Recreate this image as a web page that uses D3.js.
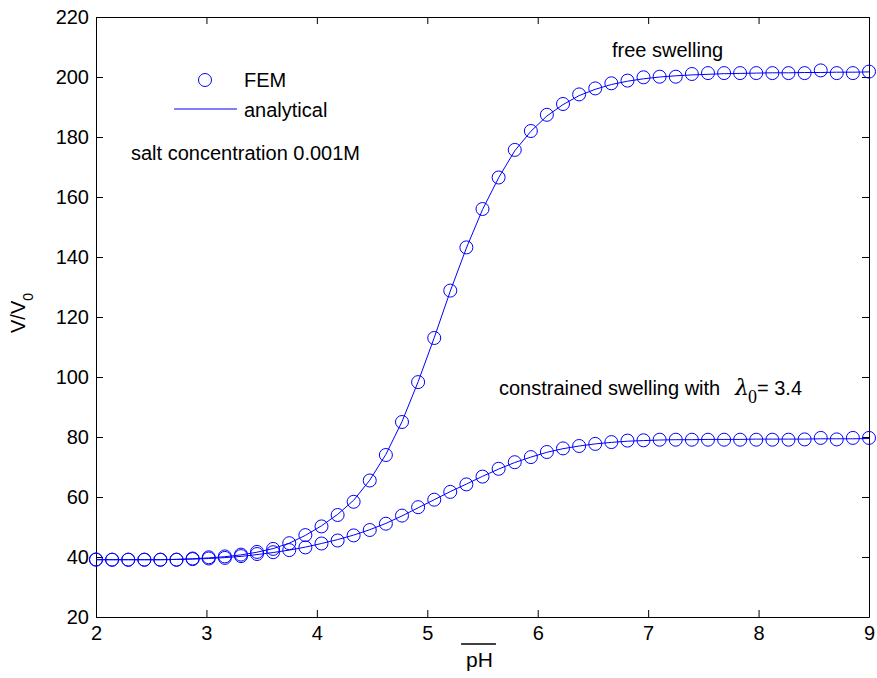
<!DOCTYPE html>
<html>
<head>
<meta charset="utf-8">
<script src="https://cdn.jsdelivr.net/npm/d3@7"></script>
<style>
  body { margin: 0; background: #fff; }
  svg { display: block; font-family: "Liberation Sans", Arial, sans-serif; }
</style>
</head>
<body>
<svg id="chart"></svg>
<script>
// pH grid where both FEM and analytical values are sampled
const pH = [2, 2.146, 2.292, 2.438, 2.583, 2.729, 2.875, 3.021, 3.167, 3.313,
  3.458, 3.604, 3.75, 3.896, 4.042, 4.188, 4.333, 4.479, 4.625, 4.771,
  4.917, 5.063, 5.208, 5.354, 5.5, 5.646, 5.792, 5.938, 6.083, 6.229,
  6.375, 6.521, 6.667, 6.813, 6.958, 7.104, 7.25, 7.396, 7.542, 7.688,
  7.833, 7.979, 8.125, 8.271, 8.417, 8.563, 8.708, 8.854, 9];

// free swelling, FEM
const freeFEM = [39.2, 39.1, 39.1, 39.1, 39.1, 39.1, 39.5, 39.9, 40.2, 40.8,
  41.7, 42.7, 44.6, 47.3, 50.2, 54.0, 58.4, 65.5, 74.0, 85.0,
  98.3, 113.0, 128.8, 143.2, 156.0, 166.5, 175.7, 182.0, 187.4, 191.0,
  194.2, 196.2, 197.9, 198.8, 199.9, 200.1, 200.1, 201.0, 201.3, 201.3,
  201.3, 201.3, 201.3, 201.3, 201.3, 202.2, 201.3, 201.3, 201.8];

// free swelling, analytical
const freeAna = [39.1, 39.1, 39.1, 39.1, 39.1, 39.2, 39.4, 39.7, 40.1, 40.7,
  41.6, 42.8, 44.6, 47.2, 50.4, 54.2, 58.9, 65.6, 74.2, 85.1,
  98.4, 113.1, 128.6, 143.0, 155.8, 166.4, 175.4, 181.9, 187.0, 190.8,
  193.8, 195.9, 197.5, 198.6, 199.4, 200.0, 200.4, 200.7, 200.9, 201.1,
  201.2, 201.3, 201.4, 201.4, 201.5, 201.5, 201.6, 201.6, 201.7];

// constrained swelling (lambda0 = 3.4), FEM
const consFEM = [39.1, 39.1, 39.1, 39.1, 39.1, 39.1, 39.3, 39.5, 39.7, 40.3,
  41.0, 41.6, 42.3, 43.2, 44.5, 45.5, 47.2, 49.0, 51.1, 53.8,
  56.6, 59.1, 61.7, 64.2, 66.8, 69.4, 71.6, 73.3, 75.0, 76.2,
  77.0, 77.7, 78.3, 78.8, 78.9, 79.1, 79.1, 79.1, 79.1, 79.1,
  79.1, 79.1, 79.1, 79.1, 79.2, 79.7, 79.2, 79.7, 79.7];

// constrained swelling, analytical
const consAna = [39.1, 39.1, 39.1, 39.1, 39.1, 39.2, 39.3, 39.5, 39.8, 40.2,
  40.8, 41.5, 42.3, 43.3, 44.5, 45.8, 47.3, 49.1, 51.2, 53.7,
  56.4, 59.1, 61.8, 64.3, 66.9, 69.3, 71.5, 73.3, 74.9, 76.1,
  77.0, 77.7, 78.2, 78.6, 78.8, 79.0, 79.1, 79.1, 79.2, 79.2,
  79.2, 79.3, 79.3, 79.3, 79.3, 79.4, 79.4, 79.4, 79.5];

const xTicks = [2, 3, 4, 5, 6, 7, 8, 9];
const yTicks = [20, 40, 60, 80, 100, 120, 140, 160, 180, 200, 220];

const width = 877;
const height = 678;
const margin = { top: 17, right: 8, bottom: 61, left: 96 };
const blue = "#0000ff";

const svg = d3.select("#chart")
  .attr("width", width)
  .attr("height", height);

svg.append("rect")
  .attr("width", width)
  .attr("height", height)
  .attr("fill", "#fff");

const x = d3.scaleLinear()
  .domain([2, 9])
  .range([margin.left, width - margin.right]);

const y = d3.scaleLinear()
  .domain([20, 220])
  .range([height - margin.bottom, margin.top]);

// axes, MATLAB style: inward ticks on all four sides
function styleAxis(g) {
  g.selectAll("path").attr("stroke", "#000").attr("stroke-width", 1);
  g.selectAll("line").attr("stroke", "#000").attr("stroke-width", 1);
  g.selectAll("text").attr("fill", "#000").style("font-size", "20px")
    .style("font-family", "'Liberation Sans', Arial, sans-serif");
}

svg.append("g")
  .attr("transform", `translate(0,${y(20)})`)
  .call(d3.axisBottom(x).tickValues(xTicks).tickFormat(d3.format("d"))
    .tickSize(-7).tickSizeOuter(0).tickPadding(9))
  .call(styleAxis);

svg.append("g")
  .attr("transform", `translate(0,${y(220)})`)
  .call(d3.axisTop(x).tickValues(xTicks).tickFormat("")
    .tickSize(-7).tickSizeOuter(0))
  .call(styleAxis);

svg.append("g")
  .attr("transform", `translate(${x(2)},0)`)
  .call(d3.axisLeft(y).tickValues(yTicks).tickFormat(d3.format("d"))
    .tickSize(-7).tickSizeOuter(0).tickPadding(7))
  .call(styleAxis);

svg.append("g")
  .attr("transform", `translate(${x(9)},0)`)
  .call(d3.axisRight(y).tickValues(yTicks).tickFormat("")
    .tickSize(-7).tickSizeOuter(0))
  .call(styleAxis);

// curves
const line = d3.line()
  .x((d, i) => x(pH[i]))
  .y(d => y(d));

const plot = svg.append("g");

[freeAna, consAna].forEach(s => {
  plot.append("path")
    .attr("d", line(s))
    .attr("fill", "none")
    .attr("stroke", blue)
    .attr("stroke-width", 1);
});

[freeFEM, consFEM].forEach(s => {
  plot.selectAll(null)
    .data(s)
    .enter().append("circle")
    .attr("cx", (d, i) => x(pH[i]))
    .attr("cy", d => y(d))
    .attr("r", 6.5)
    .attr("fill", "none")
    .attr("stroke", blue)
    .attr("stroke-width", 1);
});

// legend
svg.append("circle")
  .attr("cx", 205).attr("cy", 80).attr("r", 6.5)
  .attr("fill", "none").attr("stroke", blue).attr("stroke-width", 1);
svg.append("text").attr("x", 244).attr("y", 87)
  .style("font-size", "20px").text("FEM");
svg.append("line")
  .attr("x1", 174).attr("x2", 237).attr("y1", 109).attr("y2", 109)
  .attr("stroke", blue).attr("stroke-width", 1);
svg.append("text").attr("x", 244).attr("y", 117)
  .style("font-size", "20px").text("analytical");

// annotations
svg.append("text").attr("x", 131).attr("y", 160)
  .style("font-size", "20px").text("salt concentration 0.001M");
svg.append("text").attr("x", 612).attr("y", 57)
  .style("font-size", "20px").text("free swelling");
svg.append("text").attr("x", 499).attr("y", 395)
  .style("font-size", "20px").text("constrained swelling with");
svg.append("text").attr("x", 735).attr("y", 395)
  .style("font-family", "'DejaVu Serif', 'Liberation Serif', serif")
  .style("font-style", "italic")
  .style("font-size", "22px").text("λ");
svg.append("text").attr("x", 748).attr("y", 403)
  .style("font-family", "'Liberation Serif', 'Times New Roman', serif")
  .style("font-size", "18px").text("0");
svg.append("text").attr("x", 757).attr("y", 395)
  .style("font-size", "20px").text("= 3.4");

// axis labels
const xl = svg.append("text")
  .attr("x", (x(2) + x(9)) / 2 - 3).attr("y", 667)
  .attr("text-anchor", "middle")
  .style("font-size", "21px").text("pH");
const xlw = xl.node().getComputedTextLength();
svg.append("line")
  .attr("x1", (x(2) + x(9)) / 2 - 3 - xlw / 2 - 5)
  .attr("x2", (x(2) + x(9)) / 2 - 3 + xlw / 2 + 3)
  .attr("y1", 644).attr("y2", 644)
  .attr("stroke", "#000").attr("stroke-width", 1.5);

const yl = svg.append("text")
  .attr("transform", "translate(25,313) rotate(-90)")
  .attr("text-anchor", "middle")
  .style("font-size", "20px");
yl.append("tspan").text("V/V");
yl.append("tspan").attr("dy", 8).style("font-size", "14px").text("0");
</script>
</body>
</html>
